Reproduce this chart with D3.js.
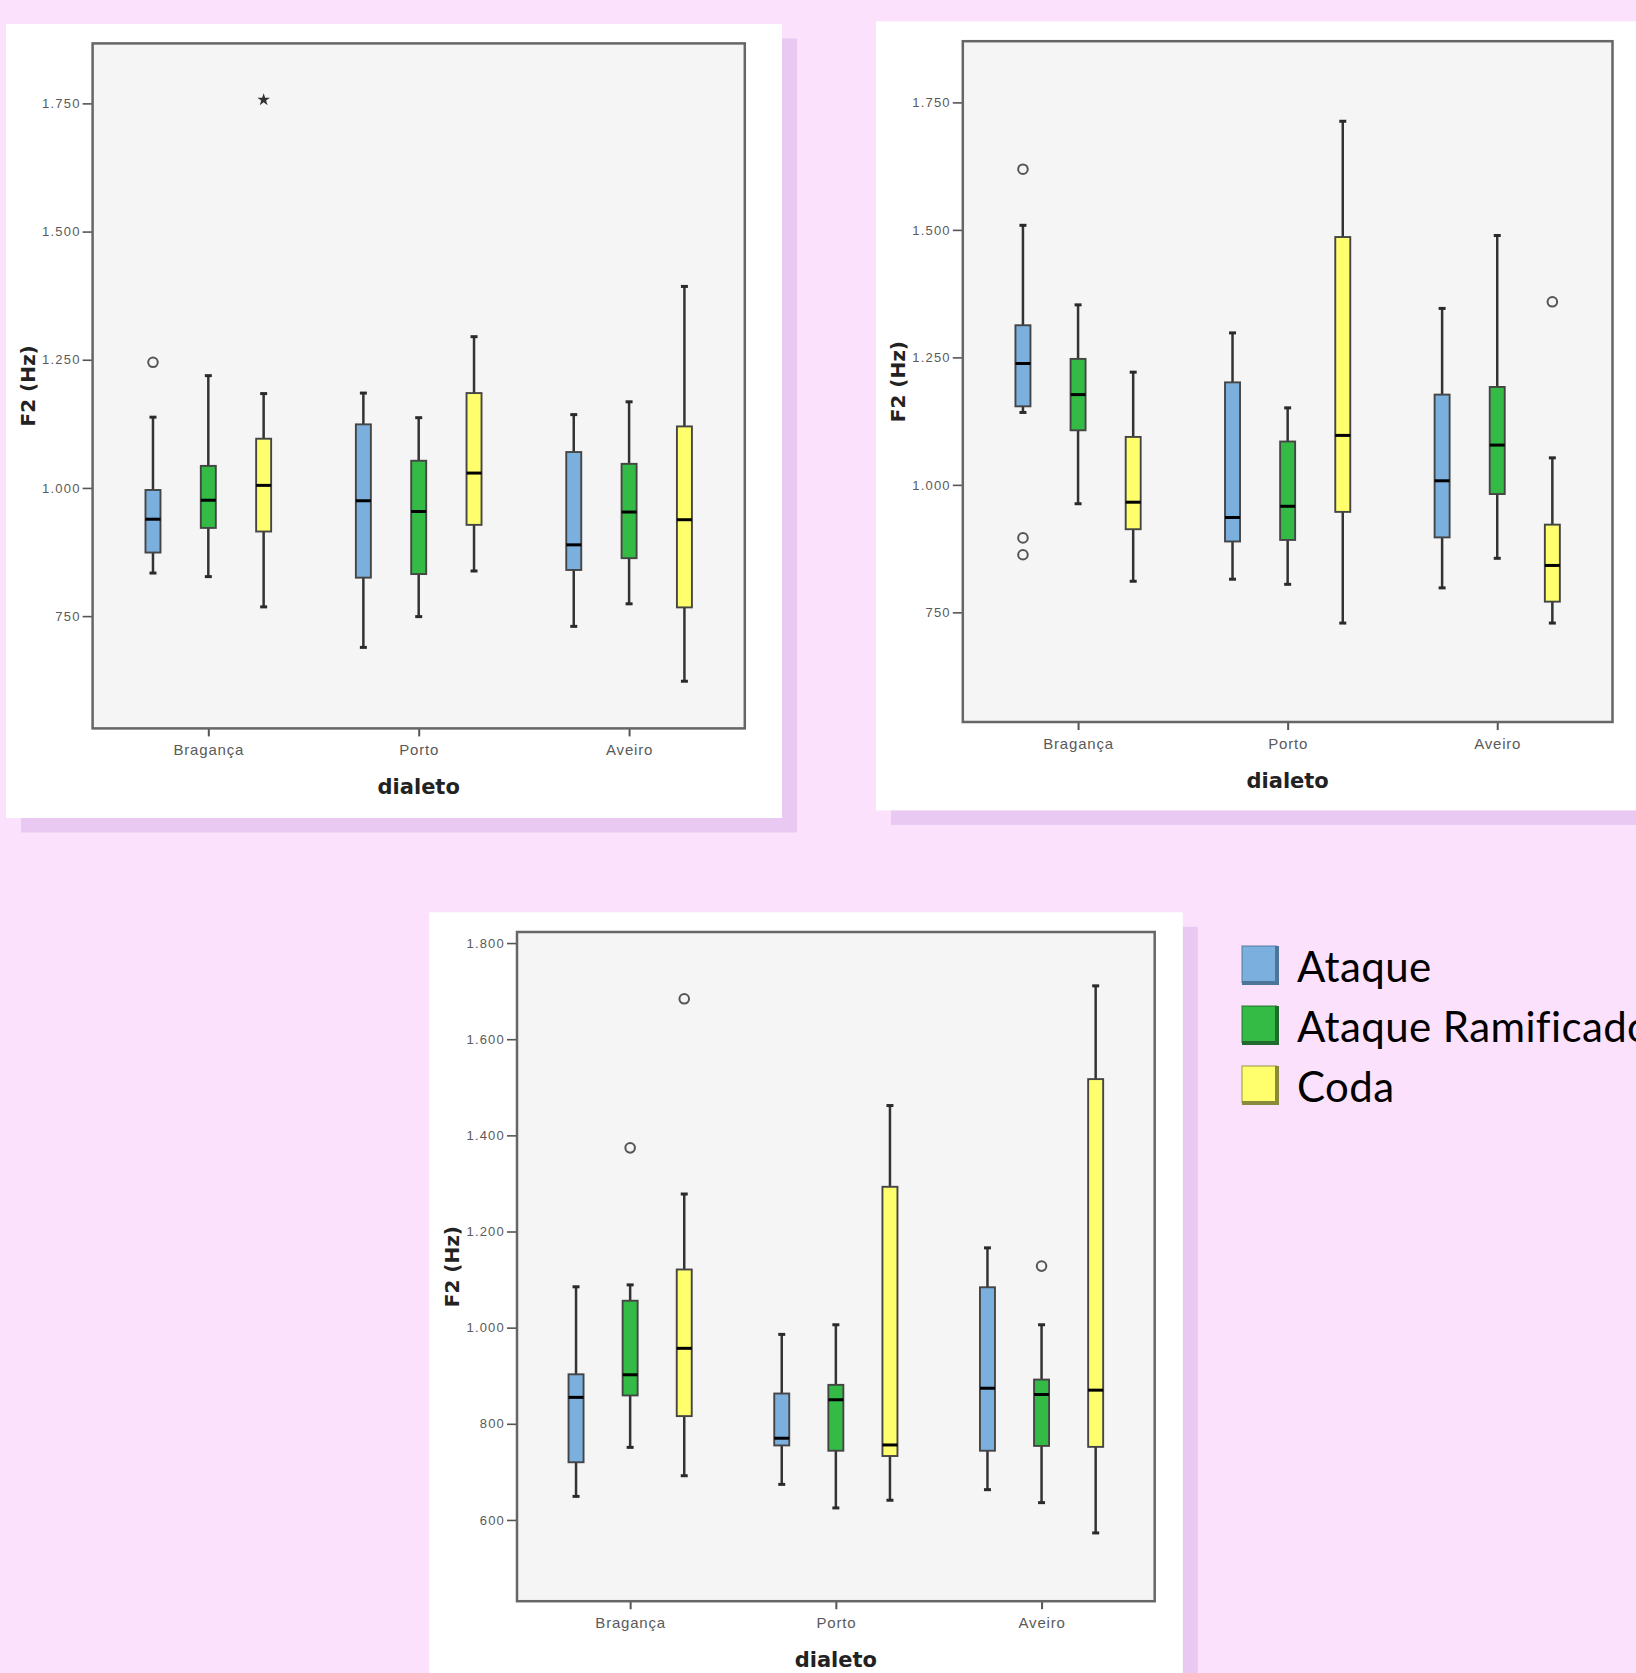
<!DOCTYPE html>
<html>
<head>
<meta charset="utf-8">
<script src="https://cdn.jsdelivr.net/npm/d3@7"></script>
<style>
  html, body { margin: 0; padding: 0; overflow: hidden; background: #fce1fc; }
  svg { display: block; }
</style>
</head>
<body>
<svg id="figura"></svg>
<script>
"use strict";

// categorias
const dialetos = ["Bragança", "Porto", "Aveiro"];
const grupos = ["Ataque", "Ataque Ramificado", "Coda"];

// eixos y
const ticksA = [750, 1000, 1250, 1500, 1750];
const ticksB = [750, 1000, 1250, 1500, 1750];
const ticksC = [600, 800, 1000, 1200, 1400, 1600, 1800];
const dominioA = [531, 1867];
const dominioB = [535, 1870];
const dominioC = [431, 1823];

// caixas: [min, Q1, mediana, Q3, max], ordem dialeto x grupo
const caixasA = [
  [834, 874, 939, 996, 1138],
  [827, 922, 976, 1043, 1219],
  [768, 915, 1005, 1096, 1184],
  [689, 825, 975, 1124, 1185],
  [749, 832, 954, 1053, 1137],
  [838, 928, 1029, 1185, 1295],
  [730, 840, 889, 1070, 1143],
  [774, 863, 953, 1047, 1168],
  [623, 767, 938, 1120, 1393],
];
const caixasB = [
  [1142, 1154, 1238, 1313, 1509],
  [963, 1107, 1177, 1247, 1353],
  [811, 913, 966, 1094, 1221],
  [815, 889, 936, 1201, 1298],
  [805, 892, 958, 1085, 1151],
  [729, 947, 1097, 1486, 1713],
  [798, 897, 1008, 1177, 1346],
  [856, 982, 1078, 1192, 1489],
  [729, 771, 842, 922, 1053],
];
const caixasC = [
  [649, 720, 855, 903, 1085],
  [751, 859, 902, 1056, 1089],
  [692, 816, 957, 1121, 1278],
  [674, 755, 770, 863, 986],
  [625, 744, 850, 881, 1006],
  [641, 733, 756, 1293, 1462],
  [663, 744, 874, 1084, 1166],
  [636, 754, 861, 892, 1006],
  [573, 752, 870, 1517, 1711],
];

// valores atípicos: [dialeto, grupo, valor, tipo]
const atipicosA = [
  ["Bragança", "Ataque", 1245, "o"],
  ["Bragança", "Coda", 1757, "*"],
];
const atipicosB = [
  ["Bragança", "Ataque", 1619, "o"],
  ["Bragança", "Ataque", 896, "o"],
  ["Bragança", "Ataque", 863, "o"],
  ["Aveiro", "Coda", 1359, "o"],
];
const atipicosC = [
  ["Bragança", "Ataque Ramificado", 1374, "o"],
  ["Bragança", "Coda", 1684, "o"],
  ["Aveiro", "Ataque Ramificado", 1128, "o"],
];

const cores = ["#7aafde", "#34bb46", "#ffff6e"];
const coresBorda = ["#4d7499", "#1f6a2c", "#8a8a3c"];

const W = 1636, H = 1673;
const svg = d3.select("#figura").attr("width", W).attr("height", H);
svg.append("rect").attr("width", W).attr("height", H).attr("fill", "#fce1fc");

const fmt = d3.formatLocale({ decimal: ",", thousands: ".", grouping: [3], currency: ["", ""] }).format(",d");

const paineis = [
  { card: [6, 24, 776, 794], plot: [92.6, 43.4, 744.8, 728.4], dominio: dominioA, ticks: ticksA, caixas: caixasA, atipicos: atipicosA },
  { card: [876, 21.4, 790, 789], plot: [962.8, 41.2, 1612.5, 722], dominio: dominioB, ticks: ticksB, caixas: caixasB, atipicos: atipicosB },
  { card: [429.2, 912.3, 753.6, 800], plot: [517, 932, 1154.7, 1601.2], dominio: dominioC, ticks: ticksC, caixas: caixasC, atipicos: atipicosC },
];

function painel(p) {
  const [cx, cy, cw, ch] = p.card;
  const [x0, y0, x1, y1] = p.plot;
  // sombra e cartão
  svg.append("rect").attr("x", cx + 15).attr("y", cy + 14.5).attr("width", cw).attr("height", ch).attr("fill", "#e9c9f1");
  svg.append("rect").attr("x", cx).attr("y", cy).attr("width", cw).attr("height", ch).attr("fill", "#ffffff");
  svg.append("rect").attr("x", x0).attr("y", y0).attr("width", x1 - x0).attr("height", y1 - y0).attr("fill", "#f5f5f5");

  const x = d3.scalePoint().domain(dialetos).range([x0, x1]).padding(0.55);
  const off = x.step() * 0.263;
  const xg = d3.scalePoint().domain(grupos).range([-off, off]);
  const y = d3.scaleLinear().domain(p.dominio).range([y1, y0]);
  const bw = 15;

  const g = svg.append("g");
  const caixa = g.selectAll("g.caixa")
    .data(p.caixas)
    .join("g")
    .attr("class", "caixa")
    .attr("transform", (d, i) => `translate(${x(dialetos[Math.floor(i / 3)]) + xg(grupos[i % 3])},0)`);

  // bigodes
  caixa.append("line").attr("x1", 0).attr("x2", 0).attr("y1", d => y(d[4])).attr("y2", d => y(d[3]))
    .attr("stroke", "#333").attr("stroke-width", 2.5);
  caixa.append("line").attr("x1", 0).attr("x2", 0).attr("y1", d => y(d[1])).attr("y2", d => y(d[0]))
    .attr("stroke", "#333").attr("stroke-width", 2.5);
  caixa.append("line").attr("x1", -3.5).attr("x2", 3.5).attr("y1", d => y(d[4])).attr("y2", d => y(d[4]))
    .attr("stroke", "#2a2a2a").attr("stroke-width", 3);
  caixa.append("line").attr("x1", -3.5).attr("x2", 3.5).attr("y1", d => y(d[0])).attr("y2", d => y(d[0]))
    .attr("stroke", "#2a2a2a").attr("stroke-width", 3);
  // caixa
  caixa.append("rect")
    .attr("x", -bw / 2).attr("width", bw)
    .attr("y", d => y(d[3])).attr("height", d => y(d[1]) - y(d[3]))
    .attr("fill", (d, i) => cores[i % 3])
    .attr("stroke", "#454545").attr("stroke-width", 1.9);
  // mediana
  caixa.append("line").attr("x1", -bw / 2).attr("x2", bw / 2).attr("y1", d => y(d[2])).attr("y2", d => y(d[2]))
    .attr("stroke", "#000").attr("stroke-width", 3);

  // atípicos
  g.selectAll("circle.atipico")
    .data(p.atipicos.filter(d => d[3] === "o"))
    .join("circle")
    .attr("class", "atipico")
    .attr("cx", d => x(d[0]) + xg(d[1]))
    .attr("cy", d => y(d[2]))
    .attr("r", 4.8)
    .attr("fill", "none")
    .attr("stroke", "#555")
    .attr("stroke-width", 2);
  g.selectAll("path.extremo")
    .data(p.atipicos.filter(d => d[3] === "*"))
    .join("path")
    .attr("class", "extremo")
    .attr("d", d3.symbol(d3.symbolStar, 50))
    .attr("transform", d => `translate(${x(d[0]) + xg(d[1])},${y(d[2])})`)
    .attr("fill", "#333");

  // eixos
  svg.append("g")
    .attr("transform", `translate(${x0},0)`)
    .call(d3.axisLeft(y).tickValues(p.ticks).tickFormat(fmt).tickSize(10).tickPadding(2))
    .call(a => a.select(".domain").remove())
    .call(a => a.selectAll(".tick line").attr("stroke", "#555").attr("stroke-width", 1.6))
    .call(a => a.selectAll(".tick text").attr("fill", "#5a5a5a").style("font", "13px 'Liberation Sans', Arial, sans-serif").style("letter-spacing", "1.2px"));
  svg.append("g")
    .attr("transform", `translate(0,${y1})`)
    .call(d3.axisBottom(x).tickSize(8).tickPadding(8))
    .call(a => a.select(".domain").remove())
    .call(a => a.selectAll(".tick line").attr("stroke", "#555").attr("stroke-width", 2))
    .call(a => a.selectAll(".tick text").attr("fill", "#5a5a5a").style("font", "15px 'Liberation Sans', Arial, sans-serif").style("letter-spacing", "0.8px"));

  // moldura
  svg.append("rect").attr("x", x0).attr("y", y0).attr("width", x1 - x0).attr("height", y1 - y0)
    .attr("fill", "none").attr("stroke", "#666").attr("stroke-width", 2.5);

  // títulos
  svg.append("text")
    .attr("x", (x0 + x1) / 2).attr("y", y1 + 66)
    .attr("text-anchor", "middle")
    .style("font", "bold 21px 'DejaVu Sans', sans-serif")
    .attr("fill", "#222")
    .text("dialeto");
  svg.append("text")
    .attr("transform", `translate(${x0 - 58},${(y0 + y1) / 2}) rotate(-90)`)
    .attr("text-anchor", "middle")
    .style("font", "bold 20px 'DejaVu Sans', sans-serif")
    .attr("fill", "#222")
    .text("F2 (Hz)");
}

paineis.forEach(painel);

// legenda
const leg = svg.append("g").attr("transform", "translate(1242,946)");
const item = leg.selectAll("g").data(grupos).join("g").attr("transform", (d, i) => `translate(0,${i * 60})`);
item.append("rect").attr("width", 35).attr("height", 37).attr("fill", (d, i) => cores[i]);
item.append("path").attr("d", "M35,0V37H0").attr("fill", "none").attr("stroke", (d, i) => coresBorda[i]).attr("stroke-width", 4);
item.append("path").attr("d", "M0,37V0H35").attr("fill", "none").attr("stroke", (d, i) => coresBorda[i]).attr("stroke-width", 1.5).attr("opacity", 0.6);
item.append("text")
  .attr("x", 55).attr("y", 35.5)
  .style("font", "42px Lato, 'Noto Sans', sans-serif")
  .style("letter-spacing", "0.4px")
  .attr("fill", "#000")
  .text(d => d);
</script>
</body>
</html>
